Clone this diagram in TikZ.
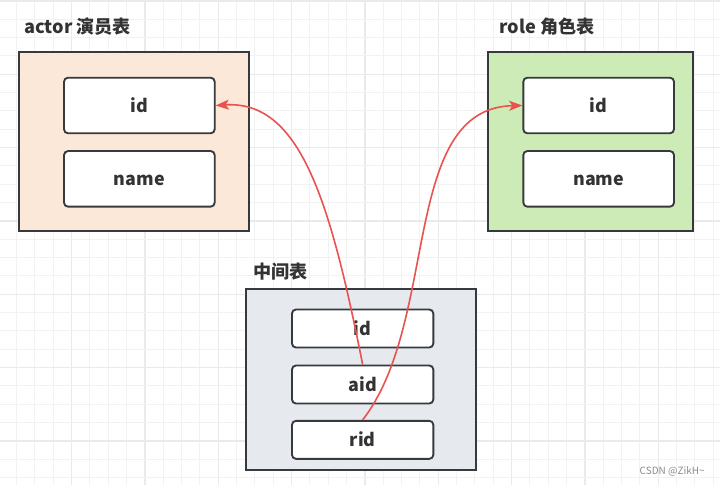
\documentclass[tikz,border=0pt]{standalone}
\usepackage{fontspec}
\setmainfont{Noto Sans CJK SC}
\usetikzlibrary{arrows.meta}
\definecolor{gridminor}{HTML}{F2F2F2}
\definecolor{gridmajor}{HTML}{EAEAEA}
\definecolor{edgegray}{HTML}{36393D}
\definecolor{txt}{HTML}{333333}
\definecolor{actorfill}{HTML}{FCE8D8}
\definecolor{rolefill}{HTML}{CDEBB6}
\definecolor{midfill}{HTML}{E6E9ED}
\definecolor{linkred}{HTML}{E8524F}
\tikzset{
  outerbox/.style={draw=edgegray, line width=1.4pt, minimum width=172.5pt, minimum height=134.5pt, inner sep=0pt},
  fieldbox/.style={draw=edgegray, fill=white, line width=1.4pt, rounded corners=3pt, minimum width=113pt, minimum height=41.7pt, inner sep=0pt, text height=10.2pt, text depth=0pt, font=\bfseries\fontsize{13.4}{15}\selectfont, text=txt},
  smallfield/.style={fieldbox, minimum width=106pt, minimum height=28.5pt},
  title/.style={anchor=base west, inner sep=0pt, font=\bfseries\fontsize{13.6}{15}\selectfont, text=txt},
  link/.style={draw=linkred, line width=1.2pt, -{Stealth[length=10pt,width=7.5pt,inset=2.5pt]}},
}
\begin{document}
\begin{tikzpicture}[x=0.75pt,y=-0.75pt]
\useasboundingbox[fill=white] (0,0) rectangle (720,485);
% grid
\foreach \i in {0,...,40}{
  \pgfmathsetmacro{\gx}{-1.7+18.333*\i}
  \pgfmathtruncatemacro{\m}{mod(\i,4)}
  \ifnum\m=0
    \draw[gridmajor, line width=0.9pt] (\gx,0) -- (\gx,485);
  \else
    \draw[gridminor, line width=0.75pt] (\gx,0) -- (\gx,485);
  \fi
}
\foreach \i in {0,...,27}{
  \pgfmathsetmacro{\gy}{1+18.333*\i}
  \pgfmathtruncatemacro{\m}{mod(\i,4)}
  \ifnum\m=0
    \draw[gridmajor, line width=0.9pt] (0,\gy) -- (720,\gy);
  \else
    \draw[gridminor, line width=0.75pt] (0,\gy) -- (720,\gy);
  \fi
}
% actor table
\node[title] (actortitle) at (24,34) {actor 演员表};
\node[outerbox, fill=actorfill] (actor) at (134.3,141.4) {};
\node[fieldbox] (aidf) at (139.35,105.5) {id};
\node[fieldbox] (aname) at (139.35,178.85) {name};
% role table
\node[title] (roletitle) at (499,34) {role 角色表};
\node[outerbox, fill=rolefill, minimum width=153.75pt] (role) at (590.8,141.4) {};
\node[fieldbox] (ridf) at (598.65,105.5) {id};
\node[fieldbox] (rname) at (598.65,178.85) {name};
% middle table
\node[title] (midtitle) at (253,278) {中间表};
\node[outerbox, fill=midfill, minimum width=172.7pt, minimum height=135.5pt] (mid) at (360.85,379.65) {};
\node[smallfield] (mid1) at (362.65,328.5) {id};
\node[smallfield] (mid2) at (362.65,384.5) {aid};
\node[smallfield] (mid3) at (362.65,439.85) {rid};
% links
\draw[link] (mid2.north) .. controls (330,200) and (300,100) .. (aidf.east);
\draw[link] (mid3.north) .. controls (440,320) and (400,108) .. (ridf.west);
% watermark
\node[anchor=east, inner sep=0pt, text=black!45, font=\fontsize{7.5}{9}\selectfont] (wm) at (705,471) {CSDN @ZikH\textasciitilde};
\end{tikzpicture}
\end{document}
